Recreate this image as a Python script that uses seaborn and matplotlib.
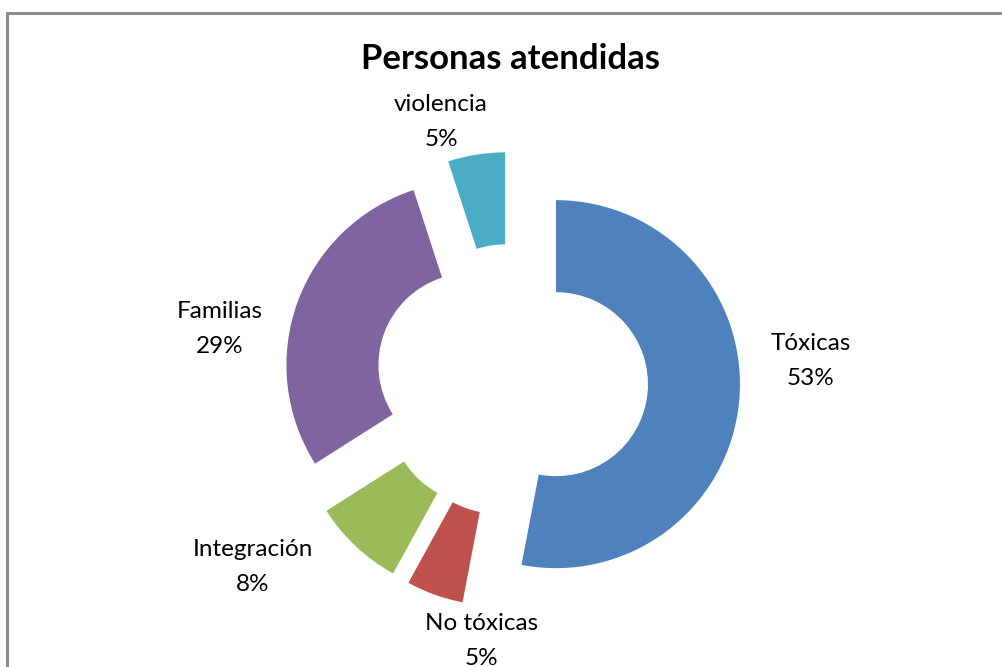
import matplotlib
matplotlib.use("Agg")
import matplotlib.pyplot as plt
import seaborn as sns
from matplotlib.patches import Rectangle

# datos del gráfico
categorias = ["Tóxicas", "No tóxicas", "Integración", "Familias", "violencia"]
porcentajes = [53, 5, 8, 29, 5]
colores = ["#4F81BD", "#C0504D", "#9BBB59", "#8064A2", "#4BACC6"]
titulo = "Personas atendidas"

# posición de cada etiqueta (en radios, respecto al centro del anillo)
pos_etiquetas = [(1.625, 0.103), (-0.168, -1.418), (-1.408, -1.016),
                 (-1.587, 0.277), (-0.386, 1.402)]

sns.set_theme(style="white")
plt.rcParams['font.family'] = ['Lato', 'DejaVu Sans']

fig = plt.figure(figsize=(10.03, 6.67), dpi=100)

# marco gris del área del gráfico
fig.patches.append(Rectangle((7 / 1003, -0.05), 1.1, 0.05 + 1 - 13 / 667,
                             transform=fig.transFigure, fill=False,
                             edgecolor="#8c8c8c", linewidth=2.2, zorder=0))

# ejes cuadrados, 184 px = radio 1, centro en (512, 380)
L = 300 / 184
ax = fig.add_axes([212 / 1003, -13 / 667, 600 / 1003, 600 / 667])

etiquetas = [f"{c}\n{p}%" for c, p in zip(categorias, porcentajes)]
wedges, textos = ax.pie(porcentajes, labels=etiquetas, colors=colores,
                        startangle=90, counterclock=False,
                        explode=[0.24] * len(porcentajes),
                        wedgeprops=dict(width=0.5, edgecolor="none"),
                        textprops=dict(fontsize=17.5, color="black",
                                       linespacing=1.85))
for t, (x, y) in zip(textos, pos_etiquetas):
    t.set_position((x, y))
    t.set_horizontalalignment("center")
    t.set_verticalalignment("center")
    t.set_multialignment("center")

ax.set_xlim(-L, L)
ax.set_ylim(-L, L)
ax.set_aspect("equal")
ax.axis("off")

fig.text(511 / 1003, 1 - 59 / 667, titulo, ha="center", va="center",
         fontsize=25, fontweight="bold", color="black")

fig.savefig("out.png", dpi=100)
